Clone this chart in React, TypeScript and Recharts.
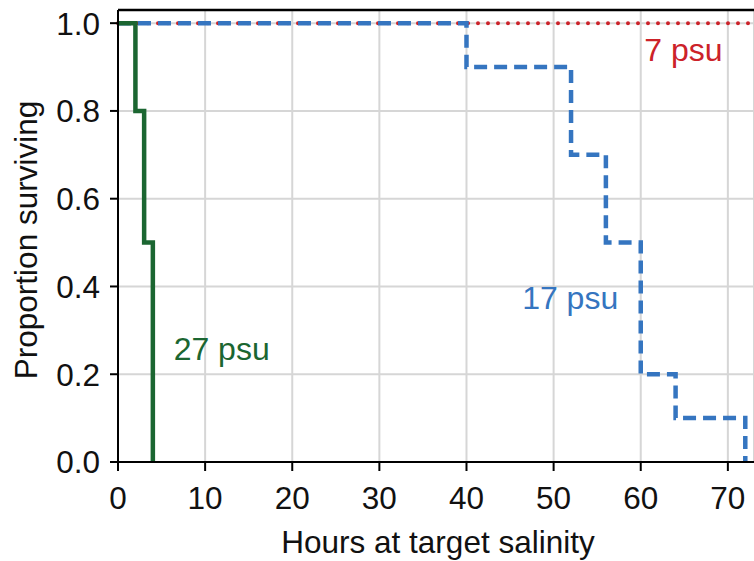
import React from 'react';
import {
  LineChart,
  Line,
  XAxis,
  YAxis,
  CartesianGrid,
  ReferenceDot,
  ReferenceLine,
} from 'recharts';

// survival curves (hours, proportion surviving)
const psu7 = [
  { hours: 0, surv: 1 },
  { hours: 73, surv: 1 },
];
const psu17 = [
  { hours: 0, surv: 1 },
  { hours: 40, surv: 0.9 },
  { hours: 52, surv: 0.7 },
  { hours: 56, surv: 0.5 },
  { hours: 60, surv: 0.2 },
  { hours: 64, surv: 0.1 },
  { hours: 72, surv: 0 },
];
const psu27 = [
  { hours: 0, surv: 1 },
  { hours: 2, surv: 0.8 },
  { hours: 3, surv: 0.5 },
  { hours: 4, surv: 0 },
];

const xTicks = [0, 10, 20, 30, 40, 50, 60, 70];
const yTicks = [0, 0.2, 0.4, 0.6, 0.8, 1.0];

const labels = [
  { text: '7 psu', x: 64.9, y: 0.94, color: '#cc2229' },
  { text: '17 psu', x: 51.9, y: 0.374, color: '#3575c0' },
  { text: '27 psu', x: 11.9, y: 0.259, color: '#1b6631' },
];

const FONT = '"Liberation Sans", Arial, sans-serif';
const FS = 31.5;

const XTick = (props: any) => {
  const { x, y, payload } = props;
  return (
    <text x={x} y={y} dy={0.71 * FS} textAnchor="middle" fill="#111" fontSize={FS} fontFamily={FONT}>
      {payload.value}
    </text>
  );
};

const YTick = (props: any) => {
  const { x, y, payload } = props;
  return (
    <text x={x} y={y} dy={0.36 * FS} textAnchor="end" fill="#111" fontSize={FS} fontFamily={FONT}>
      {Number(payload.value).toFixed(1)}
    </text>
  );
};

const XLabel = (props: any) => {
  const { viewBox } = props;
  const cx = viewBox.x + viewBox.width / 2 + 2;
  return (
    <text x={cx} y={viewBox.y + 91} textAnchor="middle" fill="#111" fontSize={FS} fontFamily={FONT}>
      Hours at target salinity
    </text>
  );
};

const YLabel = (props: any) => {
  const { viewBox } = props;
  const cy = viewBox.y + viewBox.height / 2 + 4;
  const bx = 37;
  return (
    <text x={bx} y={cy} transform={`rotate(-90, ${bx}, ${cy})`} textAnchor="middle" fill="#111" fontSize={FS} fontFamily={FONT}>
      Proportion surviving
    </text>
  );
};

const App: React.FC = () => {
  return (
    <div style={{ position: 'absolute', left: 0, top: 0, width: 754, height: 561, background: '#fff', fontFamily: FONT }}>
      <LineChart width={754} height={561} margin={{ top: 10, right: 0, bottom: 0, left: 0 }}>
        <CartesianGrid stroke="#d6d6d6" strokeWidth={2} />
        <XAxis
          dataKey="hours"
          type="number"
          domain={[0, 73]}
          ticks={xTicks}
          allowDuplicatedCategory={false}
          height={99}
          stroke="#000"
          strokeWidth={2}
          tickSize={9}
          tickMargin={16}
          tick={<XTick />}
          label={<XLabel />}
        />
        <YAxis
          dataKey="surv"
          type="number"
          domain={[0, 1.03]}
          ticks={yTicks}
          width={118}
          stroke="#000"
          strokeWidth={2}
          tickSize={8}
          tickMargin={10}
          tick={<YTick />}
          label={<YLabel />}
        />
        <ReferenceLine y={1.03} stroke="#000" strokeWidth={2.5} />
        <Line
          data={psu7}
          dataKey="surv"
          type="stepAfter"
          stroke="#cc2229"
          strokeWidth={4}
          strokeDasharray="0 10"
          strokeLinecap="round"
          dot={false}
          isAnimationActive={false}
        />
        <Line
          data={psu17}
          dataKey="surv"
          type="stepAfter"
          stroke="#3575c0"
          strokeWidth={4.5}
          strokeDasharray="13 7"
          dot={false}
          isAnimationActive={false}
        />
        <Line
          data={psu27}
          dataKey="surv"
          type="stepAfter"
          stroke="#1b6631"
          strokeWidth={4.5}
          dot={false}
          isAnimationActive={false}
        />
        {labels.map((l) => (
          <ReferenceDot
            key={l.text}
            x={l.x}
            y={l.y}
            r={0}
            fill="none"
            stroke="none"
            label={{ value: l.text, position: 'center', fill: l.color, fontSize: 32, fontFamily: FONT }}
          />
        ))}
      </LineChart>
    </div>
  );
};

export default App;
